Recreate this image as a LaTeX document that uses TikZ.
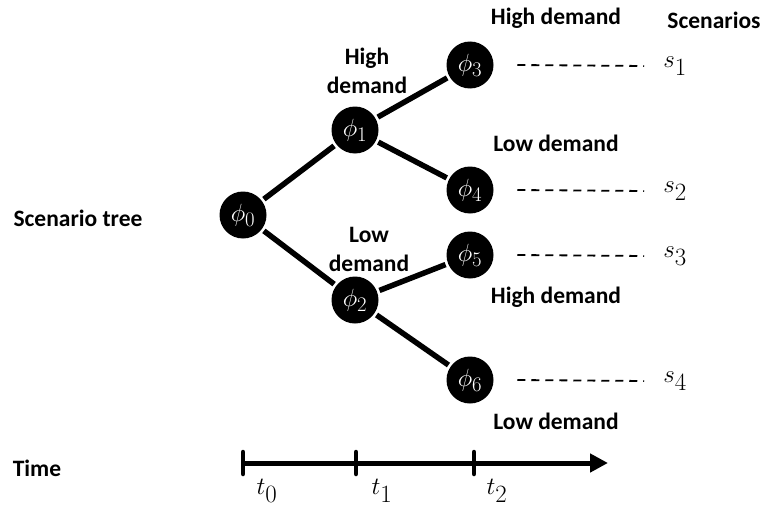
\documentclass[tikz,border=0pt]{standalone}
\usepackage{fontspec}
\setmainfont{Carlito}
\usepackage{amsmath}
\usetikzlibrary{arrows.meta,calc}

\begin{document}
\begin{tikzpicture}[x=1pt, y=-1pt, line width=5.5pt,
    main/.style = {circle, fill=black, text=white, minimum size=47pt, inner sep=0pt, font=\fontsize{29}{31}\selectfont},
    lbl/.style = {font=\fontsize{23.5}{29}\selectfont\bfseries, align=center},
    scen/.style = {font=\fontsize{33}{36}\selectfont},
    tick/.style = {line width=4.5pt}]
            \useasboundingbox (0,0) rectangle (763,511);
            \node[main] (0) at (243,215) {$\phi_0$};
            \node[main] (1) at (355,130) {$\phi_1$};
            \node[main] (2) at (355,300) {$\phi_2$};
            \node[main] (3) at (470,65) {$\phi_3$};
            \node[main] (4) at (470,190) {$\phi_4$};
            \node[main] (5) at (470,255) {$\phi_5$};
            \node[main] (6) at (470,380) {$\phi_6$};
            \path[draw]
            (0) edge (1)
            (0) edge (2)
            (1) edge (3)
            (1) edge (4)
            (2) edge (5)
            (2) edge (6);
            % scenarios
            \node[scen] (s1) at (675,66) {$s_1$};
            \node[scen] (s2) at (675,191) {$s_2$};
            \node[scen] (s3) at (675,256) {$s_3$};
            \node[scen] (s4) at (675,381) {$s_4$};
            \foreach \a/\b in {3/s1,4/s2,5/s3,6/s4}
                \draw[line width=1.8pt, dash pattern=on 8pt off 6pt] ($(\a.east)+(21,0)$) -- ($(\b.west)+(-13,0)$);
            % labels
            \node[lbl] (h3) at (556,18) {High demand};
            \node[lbl] (scenarios) at (714,20) {Scenarios};
            \node[lbl] (h1) at (367,71) {High\\demand};
            \node[lbl] (l4) at (556,143) {Low demand};
            \node[lbl] (l2) at (369,249) {Low\\demand};
            \node[lbl] (h5) at (556,297) {High demand};
            \node[lbl] (l6) at (556,421) {Low demand};
            \node[lbl] (tree) at (78,218) {Scenario tree};
            \node[lbl] (time) at (37,468) {Time};
            % time axis
            \coordinate (a0) at (243,463);
            \coordinate (a1) at (356,463);
            \coordinate (a2) at (474,463);
            \coordinate (aend) at (608,463);
            \draw[line width=5pt, -{Triangle[length=18pt,width=18pt]}] (a0) -- (aend);
            \foreach \c in {a0,a1,a2}
                \draw[tick, line cap=round] (\c) ++(0,-11) -- ++(0,22);
            \node[scen] (t0) at (267,491) {$t_0$};
            \node[scen] (t1) at (382,491) {$t_1$};
            \node[scen] (t2) at (497,491) {$t_2$};
        \end{tikzpicture}
\end{document}
